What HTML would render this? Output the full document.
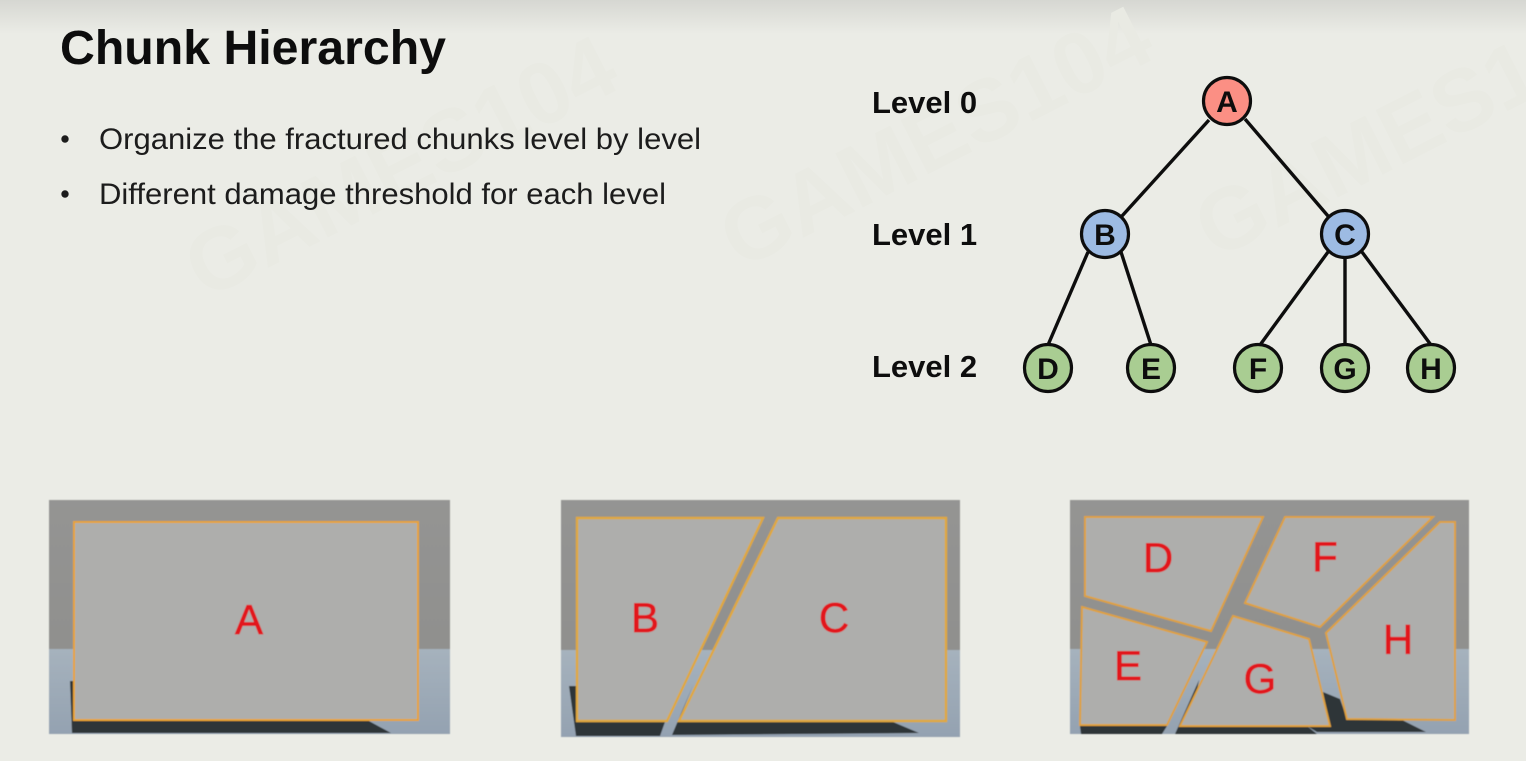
<!DOCTYPE html>
<html><head><meta charset="utf-8"><style>
html,body{margin:0;padding:0;width:1526px;height:761px;overflow:hidden;background:#ebece6}
svg{display:block}
text{font-family:"Liberation Sans",sans-serif}
</style></head><body>
<svg width="1526" height="761" viewBox="0 0 1526 761" xmlns="http://www.w3.org/2000/svg">
<defs>
<linearGradient id="top" x1="0" y1="0" x2="0" y2="1"><stop offset="0" stop-color="#d6d7d2"/><stop offset="1" stop-color="#ebece6"/></linearGradient>
<linearGradient id="wall" x1="0" y1="0" x2="0" y2="1"><stop offset="0" stop-color="#949493"/><stop offset="1" stop-color="#90908e"/></linearGradient>
<linearGradient id="floor" x1="0" y1="0" x2="0" y2="1"><stop offset="0" stop-color="#a6b2bd"/><stop offset="1" stop-color="#94a2b1"/></linearGradient>
<filter id="b1" x="-5%" y="-5%" width="110%" height="110%"><feGaussianBlur stdDeviation="0.6"/></filter>
<filter id="b2" x="-5%" y="-5%" width="110%" height="110%"><feGaussianBlur stdDeviation="0.35"/></filter>
</defs>
<rect width="1526" height="761" fill="#ebece6"/>
<rect width="1526" height="34" fill="url(#top)"/>

<g font-size="88" font-weight="700" fill="#e9eae3">
<text transform="translate(205,300) rotate(-27)">GAMES104</text>
<text transform="translate(740,270) rotate(-27)">GAMES104</text>
<text transform="translate(1215,260) rotate(-27)">GAMES104</text>
</g>

<g filter="url(#b2)">
<text x="60" y="64" font-size="48" font-weight="700" fill="#0c0c0c" textLength="386" lengthAdjust="spacingAndGlyphs">Chunk Hierarchy</text>
<circle cx="65" cy="139" r="3.7" fill="#1c1c1c"/>
<circle cx="65" cy="194" r="3.7" fill="#1c1c1c"/>
<text x="99" y="149" font-size="30" fill="#1c1c1c" textLength="602" lengthAdjust="spacingAndGlyphs">Organize the fractured chunks level by level</text>
<text x="99" y="204" font-size="30" fill="#1c1c1c" textLength="567" lengthAdjust="spacingAndGlyphs">Different damage threshold for each level</text>

<g font-size="31" font-weight="700" fill="#111">
<text x="872" y="113">Level 0</text>
<text x="872" y="245">Level 1</text>
<text x="872" y="377">Level 2</text>
</g>

<g stroke="#111" stroke-width="3.4" fill="none">
<line x1="1209" y1="120" x2="1122" y2="216"/>
<line x1="1245" y1="119" x2="1328" y2="216"/>
<line x1="1088" y1="252" x2="1048" y2="345"/>
<line x1="1121" y1="252" x2="1151" y2="345"/>
<line x1="1328" y1="252" x2="1260" y2="345"/>
<line x1="1345" y1="256" x2="1345" y2="345"/>
<line x1="1362" y1="252" x2="1431" y2="345"/>
</g>
<g stroke="#111" stroke-width="3.2">
<circle cx="1227" cy="101" r="23.5" fill="#fb8f84"/>
<circle cx="1105" cy="234" r="23.5" fill="#9dbbe3"/>
<circle cx="1345" cy="234" r="23.5" fill="#9dbbe3"/>
<circle cx="1048" cy="368" r="23.5" fill="#a9cd92"/>
<circle cx="1151" cy="368" r="23.5" fill="#a9cd92"/>
<circle cx="1258" cy="368" r="23.5" fill="#a9cd92"/>
<circle cx="1345" cy="368" r="23.5" fill="#a9cd92"/>
<circle cx="1431" cy="368" r="23.5" fill="#a9cd92"/>
</g>
<g font-size="30" font-weight="700" fill="#111" text-anchor="middle">
<text x="1227" y="112">A</text>
<text x="1105" y="245">B</text>
<text x="1345" y="245">C</text>
<text x="1048" y="379">D</text>
<text x="1151" y="379">E</text>
<text x="1258" y="379">F</text>
<text x="1345" y="379">G</text>
<text x="1431" y="379">H</text>
</g>
</g>

<g filter="url(#b1)">
<!-- Panel 1 -->
<rect x="49" y="500" width="401" height="149" fill="url(#wall)"/>
<rect x="49" y="649" width="401" height="85" fill="url(#floor)"/>
<polygon points="70,681 75,681 75,720 367,720 391,733 72,733" fill="#2d3538"/>
<polygon points="74,522 418,522 418,720 74,720" fill="#aeaeac" stroke="#e8a330" stroke-width="2"/>
<text x="249" y="634" font-size="42" fill="#e2191c" stroke="#e2191c" stroke-width=".7" text-anchor="middle">A</text>

<!-- Panel 2 -->
<rect x="561" y="500" width="399" height="150" fill="url(#wall)"/>
<rect x="561" y="650" width="399" height="87" fill="url(#floor)"/>
<polygon points="569,686 577,686 577,722 665,722 660,736 576,736" fill="#2d3538"/>
<polygon points="693,685 672,735 919,733 893,722 678,722" fill="#2d3538"/>
<polygon points="577,518 763,518 667,721 577,721" fill="#aeaeac" stroke="#e0a83c" stroke-width="2.4"/>
<polygon points="778,518 946,518 946,721 679,721" fill="#aeaeac" stroke="#e0a83c" stroke-width="2.4"/>
<text x="645" y="632" font-size="42" fill="#e2191c" stroke="#e2191c" stroke-width=".7" text-anchor="middle">B</text>
<text x="834" y="632" font-size="42" fill="#e2191c" stroke="#e2191c" stroke-width=".7" text-anchor="middle">C</text>

<!-- Panel 3 -->
<rect x="1070" y="500" width="399" height="149" fill="url(#wall)"/>
<rect x="1070" y="649" width="399" height="85" fill="url(#floor)"/>
<polygon points="1080,726 1167,726 1162,734 1081,734" fill="#2d3538"/>
<polygon points="1199,680 1175,734 1317,734 1307,726 1190,726" fill="#2d3538"/>
<polygon points="1323,692 1340,699 1347,719 1400,719 1426,732 1317,732 1307,726 1330,726" fill="#2d3538"/>
<g fill="#aeaeac" stroke="#dfa13e" stroke-width="2">
<polygon points="1085,517 1263,517 1211,631 1085,596"/>
<polygon points="1082,607 1207,642 1167,725 1080,725"/>
<polygon points="1285,517 1433,517 1320,627 1245,603"/>
<polygon points="1233,616 1309,639 1330,726 1180,726"/>
<polygon points="1440,522 1455,522 1455,720 1347,719 1326,633"/>
</g>
<g font-size="42" fill="#e2191c" stroke="#e2191c" stroke-width=".7" text-anchor="middle">
<text x="1158" y="572">D</text>
<text x="1128" y="680">E</text>
<text x="1325" y="571">F</text>
<text x="1260" y="693">G</text>
<text x="1398" y="654">H</text>
</g>
</g>
</svg>
</body></html>
